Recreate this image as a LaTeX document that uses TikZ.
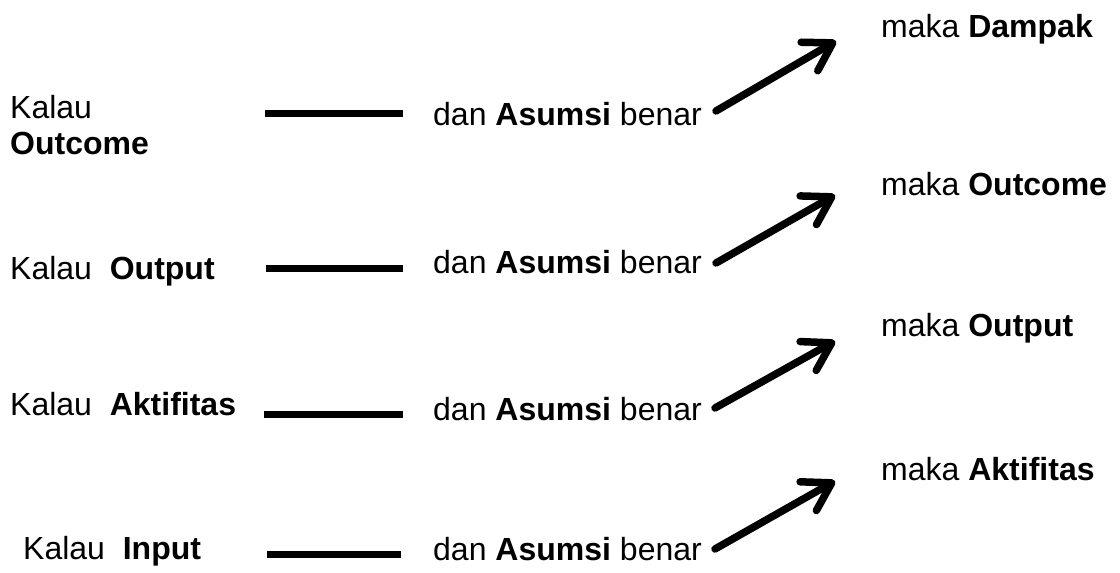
\documentclass[tikz,border=0pt]{standalone}
\usepackage{fontspec}
\setmainfont{Liberation Sans}
\usepackage{tikz}
\usetikzlibrary{arrows.meta}
\tikzset{
    txt/.style={inner sep=0pt, anchor=base west},
    bar/.style={line width=7pt},
    arr/.style={line width=7.5pt, line cap=round, -{Straight Barb[round, length=27pt, width=33pt]}}
}

\begin{document}
\begin{tikzpicture}[x=1pt, y=-1pt, font=\fontsize{32}{36}\selectfont]
    \useasboundingbox (0, 0) rectangle (1120, 573);
    % Outcome -> Dampak
    \node[txt, anchor=north west, align=left] (kalau1) at (10, 95) {Kalau\\\textbf{Outcome}};
    \coordinate (a1) at (265, 113);
    \coordinate (b1) at (403, 113);
    \draw[bar] (a1) -- (b1);
    \node[txt] (dan1) at (433, 125) {dan \textbf{Asumsi} benar};
    \coordinate (s1) at (716, 111);
    \node[txt] (maka1) at (881, 37) {maka \textbf{Dampak}};
    \coordinate (t1) at (836, 41);
    \draw[arr] (s1) -- (t1);
    % Output -> Outcome
    \node[txt] (kalau2) at (10, 279) {Kalau\ \ \textbf{Output}};
    \coordinate (a2) at (266, 268);
    \coordinate (b2) at (403, 268);
    \draw[bar] (a2) -- (b2);
    \node[txt] (dan2) at (433, 273) {dan \textbf{Asumsi} benar};
    \coordinate (s2) at (716, 263);
    \node[txt] (maka2) at (881, 195) {maka \textbf{Outcome}};
    \coordinate (t2) at (835, 195);
    \draw[arr] (s2) -- (t2);
    % Aktifitas -> Output
    \node[txt] (kalau3) at (10, 415) {Kalau\ \ \textbf{Aktifitas}};
    \coordinate (a3) at (264, 414);
    \coordinate (b3) at (403, 414);
    \draw[bar] (a3) -- (b3);
    \node[txt] (dan3) at (433, 420) {dan \textbf{Asumsi} benar};
    \coordinate (s3) at (715, 408);
    \node[txt] (maka3) at (881, 336) {maka \textbf{Output}};
    \coordinate (t3) at (835, 341);
    \draw[arr] (s3) -- (t3);
    % Input -> Aktifitas
    \node[txt] (kalau4) at (23, 559) {Kalau\ \ \textbf{Input}};
    \coordinate (a4) at (267, 554);
    \coordinate (b4) at (401, 554);
    \draw[bar] (a4) -- (b4);
    \node[txt] (dan4) at (433, 560) {dan \textbf{Asumsi} benar};
    \coordinate (s4) at (715, 549);
    \node[txt] (maka4) at (881, 480) {maka \textbf{Aktifitas}};
    \coordinate (t4) at (835, 481);
    \draw[arr] (s4) -- (t4);
\end{tikzpicture}
\end{document}
